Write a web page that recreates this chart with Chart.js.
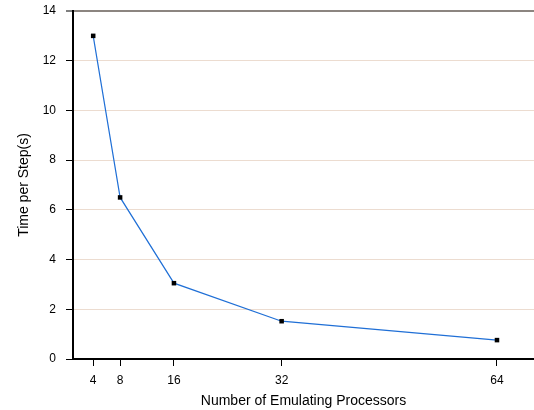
<!DOCTYPE html>
<html>
<head>
<meta charset="utf-8">
<script src="https://cdn.jsdelivr.net/npm/chart.js@4/dist/chart.umd.min.js"></script>
<style>
html,body{margin:0;padding:0;background:#fff;}
canvas{display:block;}
</style>
</head>
<body>
<canvas id="c" width="534" height="410"></canvas>
<script>
const processors = [4, 8, 16, 32, 64];
const timePerStep = [13.0, 6.5, 3.05, 1.52, 0.76];
const xTicks = [4, 8, 16, 32, 64];
const yTicks = [0, 2, 4, 6, 8, 10, 12, 14];

const FONT = "'Liberation Sans', Arial, Helvetica, sans-serif";

new Chart(document.getElementById('c'), {
  type: 'scatter',
  data: {
    datasets: [{
      data: processors.map((p, i) => ({x: p, y: timePerStep[i]})),
      showLine: true,
      borderColor: '#1f6fd6',
      borderWidth: 1.2,
      pointStyle: 'rect',
      pointRadius: 3.2,
      pointBackgroundColor: '#000',
      pointBorderColor: '#000',
      pointBorderWidth: 0,
      tension: 0
    }]
  },
  options: {
    responsive: false,
    animation: false,
    layout: {autoPadding: false, padding: {top: 11, right: 0, left: 0, bottom: 0}},
    plugins: {legend: {display: false}, tooltip: {enabled: false}},
    scales: {
      x: {
        type: 'linear',
        min: 1,
        max: 69.5,
        afterBuildTicks: (s) => { s.ticks = xTicks.map(v => ({value: v})); },
        afterFit: (s) => { s.height = 51; s.paddingLeft = 0; s.paddingRight = 0; },
        border: {display: true, color: '#000', width: 2},
        grid: {display: true, drawOnChartArea: false, drawTicks: true, tickLength: 7, tickColor: '#000', tickWidth: 1},
        ticks: {color: '#000', font: {family: FONT, size: 12}, padding: 7, maxRotation: 0, autoSkip: false},
        title: {display: true, text: 'Number of Emulating Processors', color: '#000', font: {family: FONT, size: 14}, padding: {top: 0, bottom: 0}}
      },
      y: {
        min: 0,
        max: 14,
        afterBuildTicks: (s) => { s.ticks = yTicks.map(v => ({value: v})); },
        afterFit: (s) => { s.width = 73; s.paddingTop = 0; s.paddingBottom = 0; },
        border: {display: true, color: '#000', width: 2},
        grid: {
          color: (ctx) => ctx.tick && ctx.tick.value === 14 ? '#8c8580' : (ctx.tick && ctx.tick.value === 0 ? 'rgba(0,0,0,0)' : '#ecdcd0'),
          lineWidth: (ctx) => ctx.tick && ctx.tick.value === 14 ? 2 : 1,
          drawTicks: true, tickLength: 7, tickColor: '#000', tickWidth: 1
        },
        ticks: {color: '#000', font: {family: FONT, size: 12}, padding: 10},
        title: {display: true, text: 'Time per Step(s)', color: '#000', font: {family: FONT, size: 14}, padding: {top: 16, bottom: 0}}
      }
    }
  }
});
</script>
</body>
</html>
